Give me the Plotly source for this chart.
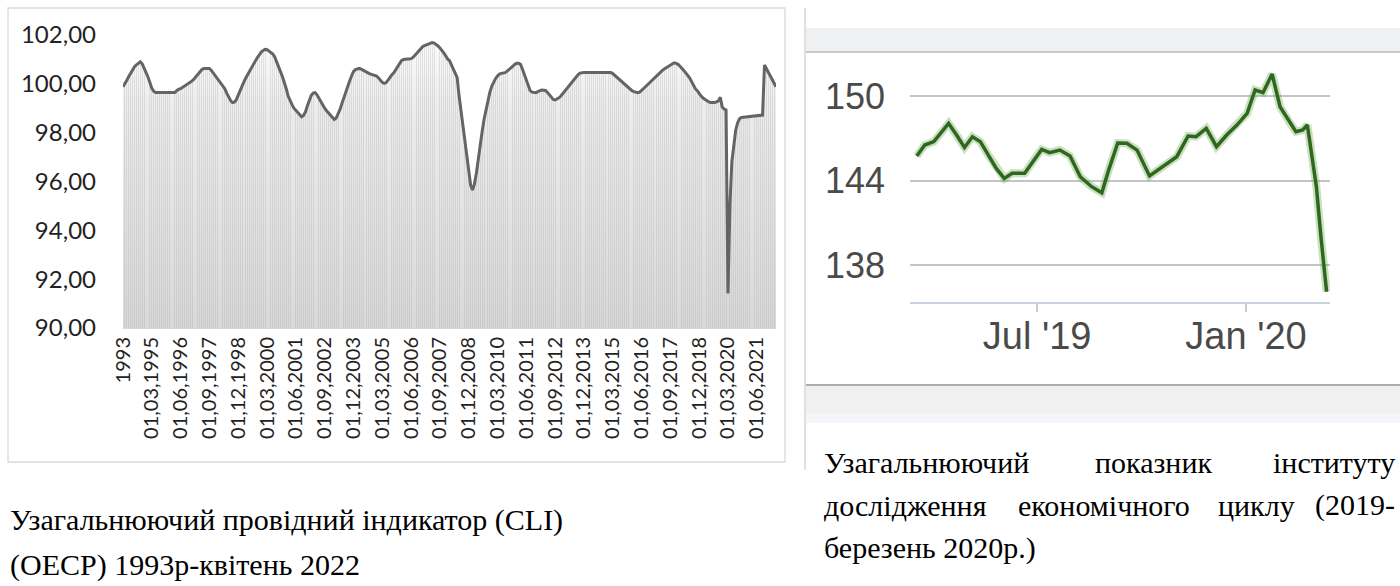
import plotly.graph_objects as go

W, H = 1400, 586

# ---- left chart: OECD composite leading indicator, "1993" then monthly 1994-01 .. 2022-04
cli_values = [
    99.88,
    100.0, 100.15, 100.3, 100.45, 100.6, 100.7, 100.78, 100.85, 100.9, 100.82, 100.65, 100.45,
    100.28, 100.05, 99.82, 99.7, 99.64, 99.64, 99.64, 99.64, 99.64, 99.64, 99.64, 99.64,
    99.64, 99.64, 99.64, 99.72, 99.78, 99.8, 99.85, 99.9, 99.95, 100.0, 100.05, 100.12,
    100.2, 100.3, 100.4, 100.5, 100.58, 100.63, 100.63, 100.63, 100.63, 100.55, 100.45, 100.32,
    100.22, 100.12, 100.02, 99.92, 99.8, 99.62, 99.45, 99.32, 99.23, 99.25, 99.35, 99.55,
    99.75, 99.95, 100.09, 100.25, 100.4, 100.55, 100.67, 100.8, 100.95, 101.08, 101.2, 101.3,
    101.37, 101.41, 101.4, 101.35, 101.3, 101.22, 101.1, 100.92, 100.7, 100.5, 100.3, 100.09,
    99.8, 99.5, 99.3, 99.15, 99.0, 98.9, 98.82, 98.72, 98.65, 98.7, 98.85, 99.1,
    99.34, 99.52, 99.62, 99.64, 99.55, 99.4, 99.25, 99.12, 99.0, 98.9, 98.8, 98.7,
    98.6, 98.54, 98.6, 98.75, 98.95, 99.2, 99.45, 99.7, 99.9, 100.12, 100.32, 100.5,
    100.58, 100.62, 100.63, 100.6, 100.55, 100.5, 100.46, 100.43, 100.4, 100.37, 100.34, 100.32,
    100.25, 100.15, 100.06, 100.02, 100.05, 100.15, 100.27, 100.37, 100.45, 100.58, 100.72, 100.85,
    100.95, 101.0, 101.02, 101.02, 101.02, 101.03, 101.08, 101.17, 101.25, 101.35, 101.45, 101.52,
    101.57, 101.6, 101.63, 101.67, 101.69, 101.67, 101.62, 101.55, 101.47, 101.38, 101.27, 101.15,
    101.02, 100.95, 100.78, 100.58, 100.45, 100.25, 99.5, 98.9, 98.1, 97.5, 96.9, 96.3,
    95.85, 95.65, 95.9, 96.35, 97.0, 97.6, 98.05, 98.55, 98.95, 99.35, 99.65, 99.9,
    100.1, 100.22, 100.32, 100.4, 100.43, 100.44, 100.46, 100.52, 100.58, 100.64, 100.72, 100.8,
    100.84, 100.84, 100.8, 100.6, 100.4, 100.18, 99.95, 99.72, 99.66, 99.64, 99.64, 99.68,
    99.72, 99.75, 99.74, 99.73, 99.65, 99.55, 99.45, 99.36, 99.34, 99.38, 99.43, 99.5,
    99.6, 99.7, 99.8, 99.88, 99.97, 100.06, 100.16, 100.28, 100.38, 100.44, 100.46, 100.46,
    100.46, 100.46, 100.46, 100.46, 100.46, 100.46, 100.46, 100.46, 100.46, 100.46, 100.46, 100.46,
    100.46, 100.46, 100.42, 100.35, 100.28, 100.2, 100.12, 100.05, 99.97, 99.9, 99.84, 99.78,
    99.72, 99.68, 99.65, 99.64, 99.66, 99.72, 99.8, 99.88, 99.96, 100.04, 100.12, 100.2,
    100.28, 100.36, 100.43, 100.5, 100.56, 100.62, 100.67, 100.72, 100.77, 100.82, 100.86, 100.84,
    100.8, 100.72, 100.65, 100.55, 100.45, 100.35, 100.25, 100.1, 99.95, 99.8, 99.72, 99.6,
    99.5, 99.42, 99.36, 99.3, 99.26, 99.24, 99.23, 99.24, 99.26, 99.3, 99.45, 99.05,
    98.97, 98.93, 91.41, 95.0, 96.8, 97.6, 98.1, 98.4, 98.57, 98.62, 98.63, 98.64,
    98.65, 98.66, 98.67, 98.68, 98.69, 98.7, 98.7, 98.71, 98.72, 100.77, 100.62, 100.47,
    100.32, 100.17, 100.02, 99.88,
]
cli_categories = ["1993"] + [f"01,{m:02d},{y}" for y in range(1994, 2023) for m in range(1, 13)]
cli_categories = cli_categories[:len(cli_values)]
cli_tick_labels = [
    "1993", "01,03,1995", "01,06,1996", "01,09,1997", "01,12,1998", "01,03,2000",
    "01,06,2001", "01,09,2002", "01,12,2003", "01,03,2005", "01,06,2006", "01,09,2007",
    "01,12,2008", "01,03,2010", "01,06,2011", "01,09,2012", "01,12,2013", "01,03,2015",
    "01,06,2016", "01,09,2017", "01,12,2018", "01,03,2020", "01,06,2021",
]
cli_y_ticks = [90, 92, 94, 96, 98, 100, 102]
cli_y_text = ["90,00", "92,00", "94,00", "96,00", "98,00", "100,00", "102,00"]

# ---- right chart: ECRI weekly leading index
eci_dates = [
    "2019-03-17", "2019-03-24", "2019-04-01", "2019-04-07", "2019-04-14", "2019-04-21",
    "2019-04-28", "2019-05-05", "2019-05-12", "2019-05-19", "2019-05-26", "2019-06-02",
    "2019-06-09", "2019-06-20", "2019-06-28", "2019-07-05", "2019-07-12", "2019-07-21",
    "2019-07-30", "2019-08-08", "2019-08-18", "2019-08-27", "2019-09-02", "2019-09-10",
    "2019-09-18", "2019-09-27", "2019-10-08", "2019-10-17", "2019-11-01", "2019-11-11",
    "2019-11-18", "2019-11-27", "2019-12-06", "2019-12-15", "2019-12-24", "2020-01-02",
    "2020-01-09", "2020-01-16", "2020-01-24", "2020-01-31", "2020-02-09", "2020-02-14",
    "2020-02-20", "2020-02-24", "2020-02-26", "2020-03-03", "2020-03-07", "2020-03-12",
]
eci_values = [
    145.74, 146.52, 146.76, 147.4, 148.06, 147.23,
    146.35, 147.11, 146.76, 145.81, 144.86, 144.15,
    144.51, 144.51, 145.45, 146.21, 145.98, 146.16,
    145.74, 144.27, 143.56, 143.13, 144.74, 146.66,
    146.64, 146.16, 144.32, 144.86, 145.69, 147.16,
    147.11, 147.7, 146.4, 147.23, 147.94, 148.77,
    150.43, 150.24, 151.56, 149.24, 148.06, 147.47,
    147.59, 147.94, 146.88, 143.56, 140.01, 136.1,
]
eci_tick_dates = ["2019-07-01", "2020-01-01"]
eci_tick_text = ["Jul '19", "Jan '20"]
eci_y_ticks = [138, 144, 150]


def px(x):
    return x / W


def py(y):
    return 1 - y / H


fig = go.Figure()

# grey gradient area under the CLI line
fig.add_trace(go.Scatter(
    x=cli_categories, y=cli_values, mode="lines", line=dict(width=0),
    fill="tozeroy",
    fillgradient=dict(type="vertical", start=90, stop=102,
                      colorscale=[[0, "#d9d9d9"], [0.75, "#ececec"], [1, "#fcfcfc"]]),
    xaxis="x", yaxis="y", hoverinfo="skip", showlegend=False,
))
# thin vertical stripes + the line, on an overlay so the line stays on top
fig.add_trace(go.Bar(
    x=cli_categories, y=cli_values, width=0.45,
    marker=dict(color="rgba(160,160,160,0.25)", line=dict(width=0)),
    xaxis="x3", yaxis="y3", hoverinfo="skip", showlegend=False,
))
fig.add_trace(go.Scatter(
    x=cli_categories, y=cli_values, mode="lines",
    line=dict(color="#646464", width=3),
    xaxis="x3", yaxis="y3", showlegend=False,
))

# ECRI line with a soft green halo
fig.add_trace(go.Scatter(
    x=eci_dates, y=eci_values, mode="lines",
    line=dict(color="rgba(100,170,70,0.35)", width=8),
    xaxis="x2", yaxis="y2", hoverinfo="skip", showlegend=False,
))
fig.add_trace(go.Scatter(
    x=eci_dates, y=eci_values, mode="lines",
    line=dict(color="#2f6620", width=3.5),
    xaxis="x2", yaxis="y2", showlegend=False,
))

left_x = dict(domain=[px(123), px(776)], type="category", range=[0, len(cli_values) - 1],
              automargin=False)
left_y = dict(domain=[py(328), py(35)], range=[90, 102], automargin=False)

fig.update_layout(
    template="none",
    width=W, height=H,
    margin=dict(l=0, r=0, t=0, b=0, pad=0),
    paper_bgcolor="white", plot_bgcolor="rgba(0,0,0,0)",
    showlegend=False, bargap=0,
    xaxis=dict(**left_x, anchor="y",
               tickmode="array", tickvals=cli_tick_labels, ticktext=cli_tick_labels,
               tickangle=-90, tickfont=dict(family="Lato", size=20, color="#222"),
               showgrid=False, zeroline=False, showline=True, linecolor="#d9d9d9",
               linewidth=1, ticks=""),
    yaxis=dict(**left_y, anchor="x",
               tickmode="array", tickvals=cli_y_ticks, ticktext=cli_y_text,
               tickfont=dict(family="Lato", size=24, color="#222"),
               showgrid=False, zeroline=False, showline=False, ticks="",
               ticklabelstandoff=26),
    xaxis3=dict(**left_x, overlaying="x", anchor="y3", visible=False),
    yaxis3=dict(**left_y, overlaying="y", anchor="x3", visible=False),
    xaxis2=dict(domain=[px(910), px(1330)], anchor="y2", type="date", automargin=False,
                range=["2019-03-11", "2020-03-15"],
                tickmode="array", tickvals=eci_tick_dates, ticktext=eci_tick_text,
                ticks="outside", ticklen=8, tickwidth=2, tickcolor="#c3cdd8",
                ticklabelstandoff=-8,
                showline=True, linecolor="#c9d3de", linewidth=2,
                showgrid=False, zeroline=False,
                tickfont=dict(family="Liberation Sans", size=38, color="#4a4a4a")),
    yaxis2=dict(domain=[py(301.7), py(60)], anchor="x2", range=[135.39, 152.56],
                automargin=False,
                tickmode="array", tickvals=eci_y_ticks,
                showgrid=True, gridcolor="#c4c4c4", gridwidth=2,
                zeroline=False, showline=False, ticks="",
                ticklabelstandoff=24,
                tickfont=dict(family="Liberation Sans", size=36, color="#4a4a4a")),
)

P = dict(xref="paper", yref="paper")
shapes = [
    # left chart frame
    dict(type="rect", x0=px(8), x1=px(785), y0=py(462), y1=py(8),
         line=dict(color="#d9d9d9", width=1.3), **P),
    # right screenshot frame pieces
    dict(type="line", x0=px(805), x1=px(805), y0=py(470), y1=py(8),
         line=dict(color="#d6d6d6", width=1.5), **P),
    dict(type="rect", x0=px(806), x1=px(1400), y0=py(52), y1=py(28),
         fillcolor="#eef0f1", line=dict(width=0), layer="below", **P),
    dict(type="line", x0=px(806), x1=px(1400), y0=py(52), y1=py(52),
         line=dict(color="#c8cacc", width=2), **P),
    dict(type="line", x0=px(806), x1=px(1400), y0=py(385), y1=py(385),
         line=dict(color="#a9adb1", width=2), **P),
    dict(type="rect", x0=px(806), x1=px(1400), y0=py(413), y1=py(386),
         fillcolor="#f0f0f0", line=dict(width=0), layer="below", **P),
    dict(type="rect", x0=px(806), x1=px(1400), y0=py(423), y1=py(413),
         fillcolor="#f5f4f8", line=dict(width=0), layer="below", **P),
]
fig.update_layout(shapes=shapes)

cap_font = dict(family="Liberation Serif", size=30, color="black")


def caption(text, x, y, anchor="left"):
    fig.add_annotation(text=text, x=px(x), y=py(y), xref="paper", yref="paper",
                       xanchor=anchor, yanchor="middle", showarrow=False, font=cap_font)


caption("Узагальнюючий провідний індикатор (CLI)", 8, 520)
caption("(OECP) 1993р-квітень 2022", 8, 565)

# right caption is justified in the source, so words are placed one by one
caption("Узагальнюючий", 822, 462)
caption("показник", 1153, 462, "center")
caption("інституту", 1397, 462, "right")
caption("дослідження", 822, 505)
caption("економічного", 1104, 505, "center")
caption("циклу", 1256, 505, "center")
caption("(2019-", 1397, 505, "right")
caption("березень 2020р.)", 822, 548)

fig.write_html("out.html", config={"displayModeBar": False},
               post_script="document.body.style.margin = '0';")
